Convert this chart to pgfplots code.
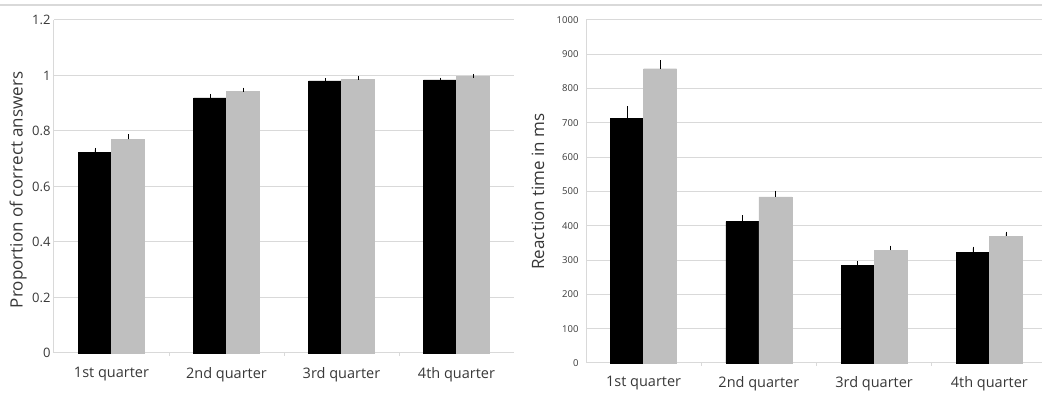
\documentclass[border=0pt]{standalone}
\usepackage{pgfplots}
\pgfplotsset{compat=1.18}
\usepackage{fontspec}
\setmainfont{Open Sans}

\definecolor{bargray}{RGB}{191,191,191}
\definecolor{gridgray}{RGB}{217,217,217}
\definecolor{txt}{RGB}{56,56,56}

\pgfplotsset{
  quarterbars/.style={
    scale only axis,
    ybar=0pt, bar width=33pt,
    xmin=-0.5, xmax=3.5,
    xtick={0,1,2,3},
    xticklabels={1st quarter,2nd quarter,3rd quarter,4th quarter},
    minor xtick={0.5,1.5,2.5},
    axis x line*=bottom, axis y line*=left,
    axis line style={gridgray, line width=1pt},
    ymajorgrids, grid style={gridgray, line width=1pt},
    major tick length=0pt, minor tick length=3pt,
    tick align=outside,
    minor tick style={gridgray, line width=1pt},
    tick label style={txt},
    /pgf/number format/assume math mode=true,
    /pgf/number format/1000 sep={},
    xticklabel style={font=\fontsize{14.5}{14.5}\selectfont, yshift=-11pt},
    ylabel style={txt, font=\fontsize{17}{17}\selectfont, anchor=center},
    error bars/error bar style={black, line width=0.7pt},
    error bars/error mark options={black, mark size=1.8pt, line width=0.7pt},
    clip=false,
  },
  darkbar/.style={fill=black, draw=black,
    error bars/.cd, y dir=plus, y explicit},
  lightbar/.style={fill=bargray, draw=bargray,
    error bars/.cd, y dir=plus, y explicit},
}

\begin{document}
\begin{tikzpicture}[x=1pt, y=1pt]
  \useasboundingbox (0,0) rectangle (1042,396);
  \draw[gridgray, line width=1.5pt] (0,391) -- (1042,391);

  % Proportion of correct answers
  \begin{axis}[quarterbars,
      at={(54pt,43pt)}, anchor=south west,
      width=460pt, height=333pt,
      ymin=0, ymax=1.2, ytick={0,0.2,...,1.2},
      yticklabel style={font=\fontsize{13}{13}\selectfont,
        /pgf/number format/fixed, /pgf/number format/precision=1},
      ylabel={Proportion of correct answers},
      ylabel style={at={(axis description cs:-0.078,0.49)}},
    ]
    \addplot[darkbar] coordinates {
      (0,0.722) +- (0,0.011)
      (1,0.919) +- (0,0.008)
      (2,0.981) +- (0,0.003)
      (3,0.984) +- (0,0.002)
    };
    \addplot[lightbar] coordinates {
      (0,0.770) +- (0,0.011)
      (1,0.942) +- (0,0.008)
      (2,0.987) +- (0,0.003)
      (3,0.997) +- (0,0.002)
    };
  \end{axis}

  % Reaction time in ms
  \begin{axis}[quarterbars,
      at={(586pt,33pt)}, anchor=south west,
      width=461pt, height=343pt,
      ymin=0, ymax=1000, ytick={0,100,...,1000},
      yticklabel style={font=\fontsize{9.5}{9.5}\selectfont, xshift=-4pt},
      ylabel={Reaction time in ms},
      ylabel style={at={(axis description cs:-0.104,0.5)}},
      xticklabel style={yshift=1pt},
    ]
    \addplot[darkbar] coordinates {
      (0,714) +- (0,29)
      (1,412) +- (0,13)
      (2,284) +- (0,7)
      (3,323) +- (0,11)
    };
    \addplot[lightbar] coordinates {
      (0,858) +- (0,20)
      (1,484) +- (0,13)
      (2,329) +- (0,8)
      (3,370) +- (0,8)
    };
  \end{axis}
\end{tikzpicture}
\end{document}
